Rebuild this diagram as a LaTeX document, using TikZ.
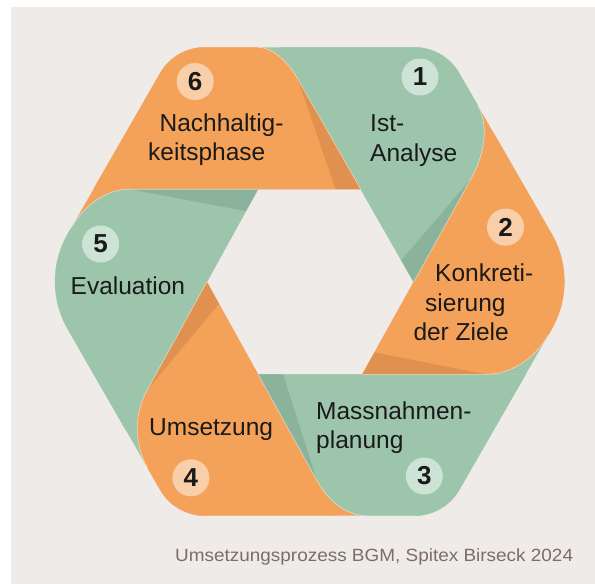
\documentclass[tikz,border=0pt]{standalone}
\usepackage{fontspec}
\usepackage{graphicx}
\setmainfont{Liberation Sans}
\usetikzlibrary{calc}

\definecolor{bg}{HTML}{EFEBE8}
\definecolor{org}{HTML}{F4A25A}
\definecolor{grn}{HTML}{9DC5AB}
\definecolor{orgdark}{HTML}{E0914F}
\definecolor{grndark}{HTML}{8BB39B}
\definecolor{orglight}{HTML}{F9CFA9}
\definecolor{grnlight}{HTML}{CDE3D5}
\definecolor{txt}{HTML}{1A1A1A}
\definecolor{capc}{HTML}{7B6E64}

% rounded corner at vertex #2 (between #1 and #3); #4/#5 = inset towards #1/#3
\newcommand\rnd[5]{%
  -- ($(#2)!#4!(#1)$) .. controls ($(#2)!0.38*#4!(#1)$) and ($(#2)!0.38*#5!(#3)$) .. ($(#2)!#5!(#3)$)}

\tikzset{
  orgpiece/.style={fill=org, draw=org, line width=0.4pt},
  grnpiece/.style={fill=grn, draw=grn, line width=0.4pt},
  hl/.style={draw=white, draw opacity=0.55, line width=0.6pt},
  lbl/.style={inner sep=0pt, anchor=base west, text=txt, font=\fontsize{24.5}{29}\selectfont},
  numcirc/.style={circle, minimum size=37pt, inner sep=0pt, text=txt,
    font=\bfseries\fontsize{26}{26}\selectfont},
}

\begin{document}
\begin{tikzpicture}[x=1pt, y=-1pt]
\useasboundingbox (0,0) rectangle (595,584);
\fill[white] (0,0) rectangle (595,584);
\fill[bg] (11.4,7.4) rectangle (595,584);

% outer hexagon corners
\coordinate (A1) at (444.35,47.3);
\coordinate (A2) at (579,281.5);
\coordinate (A3) at (444.35,515.7);
\coordinate (A4) at (175.05,515.7);
\coordinate (A5) at (40.4,281.5);
\coordinate (A6) at (175.05,47.3);
% inner hexagon corners
\coordinate (I1) at (413.7,282);
\coordinate (I2) at (362.4,374.3);
\coordinate (I3) at (258,374.3);
\coordinate (I4) at (206.8,282);
\coordinate (I5) at (258,189.2);
\coordinate (I6) at (360.7,189.2);
% where the extended inner edges meet the outer outline
\coordinate (J1) at (intersection of I2--I1 and A1--A2);
\coordinate (J2) at (intersection of I3--I2 and A2--A3);
\coordinate (J3) at (intersection of I4--I3 and A3--A4);
\coordinate (J4) at (intersection of I5--I4 and A4--A5);
\coordinate (J5) at (intersection of I6--I5 and A5--A6);
\coordinate (J6) at (intersection of I1--I6 and A6--A1);

% pieces showing behind the rounded overlap corners
\fill[org] (J1) -- ($(J1)!35pt!(A1)$) -- ($(J1)!50pt!(I1)$) -- cycle;
\fill[grn] (J2) -- ($(J2)!45pt!(A2)$) -- ($(J2)!40pt!(I2)$) -- cycle;
\fill[org] (J3) -- ($(J3)!30pt!(A3)$) -- ($(J3)!40pt!(I3)$) -- cycle;
\fill[grn] (J4) -- ($(J4)!45pt!(A4)$) -- ($(J4)!45pt!(I4)$) -- cycle;
\fill[org] (J5) -- ($(J5)!45pt!(A5)$) -- ($(J5)!36pt!(I5)$) -- cycle;
\fill[grn] (J6) -- ($(J6)!22pt!(A6)$) -- ($(J6)!36pt!(I6)$) -- cycle;

% the six pieces
\path[grnpiece] (J6) \rnd{J6}{A1}{J1}{30pt}{30pt} \rnd{A1}{J1}{I1}{35pt}{50pt} -- (I1) -- (I6) -- cycle;
\path[orgpiece] (J1) \rnd{J1}{A2}{J2}{55pt}{55pt} \rnd{A2}{J2}{I2}{45pt}{40pt} -- (I2) -- (I1) -- cycle;
\path[grnpiece] (J2) \rnd{J2}{A3}{J3}{30pt}{30pt} \rnd{A3}{J3}{I3}{30pt}{40pt} -- (I3) -- (I2) -- cycle;
\path[orgpiece] (J3) \rnd{J3}{A4}{J4}{30pt}{30pt} \rnd{A4}{J4}{I4}{45pt}{45pt} -- (I4) -- (I3) -- cycle;
\path[grnpiece] (J4) \rnd{J4}{A5}{J5}{55pt}{55pt} \rnd{A5}{J5}{I5}{45pt}{36pt} -- (I5) -- (I4) -- cycle;
\path[orgpiece] (J5) \rnd{J5}{A6}{J6}{30pt}{30pt} \rnd{A6}{J6}{I6}{22pt}{36pt} -- (I6) -- (I5) -- cycle;

% shadow wedges at the inner corners
\fill[grndark] ($(J1)!50pt!(I1)$) -- (I1) -- ($(I1)!25pt!(I6)$) -- cycle;
\fill[orgdark] ($(J2)!40pt!(I2)$) -- (I2) -- ($(I2)!25pt!(I1)$) -- cycle;
\fill[grndark] ($(J3)!40pt!(I3)$) -- (I3) -- ($(I3)!25pt!(I2)$) -- cycle;
\fill[orgdark] ($(J4)!45pt!(I4)$) -- (I4) -- ($(I4)!25pt!(I3)$) -- cycle;
\fill[grndark] ($(J5)!36pt!(I5)$) -- (I5) -- ($(I5)!25pt!(I4)$) -- cycle;
\fill[orgdark] ($(J6)!36pt!(I6)$) -- (I6) -- ($(I6)!25pt!(I5)$) -- cycle;

% light edges along the overlaps
\path[hl] ($(J1)!35pt!(A1)$) \rnd{A1}{J1}{I1}{35pt}{50pt} -- (I1);
\path[hl] ($(J2)!45pt!(A2)$) \rnd{A2}{J2}{I2}{45pt}{40pt} -- (I2);
\path[hl] ($(J3)!30pt!(A3)$) \rnd{A3}{J3}{I3}{30pt}{40pt} -- (I3);
\path[hl] ($(J4)!45pt!(A4)$) \rnd{A4}{J4}{I4}{45pt}{45pt} -- (I4);
\path[hl] ($(J5)!45pt!(A5)$) \rnd{A5}{J5}{I5}{45pt}{36pt} -- (I5);
\path[hl] ($(J6)!22pt!(A6)$) \rnd{A6}{J6}{I6}{22pt}{36pt} -- (I6);

% step numbers
\node[numcirc, fill=grnlight] (n1) at (420,77) {1};
\node[numcirc, fill=orglight] (n2) at (505.5,227.2) {2};
\node[numcirc, fill=grnlight] (n3) at (424.3,476) {3};
\node[numcirc, fill=orglight] (n4) at (190.9,477.8) {4};
\node[numcirc, fill=grnlight] (n5) at (100.6,244) {5};
\node[numcirc, fill=orglight] (n6) at (195.2,81.5) {6};

% step labels
\node[lbl] (l1a) at (370,131) {Ist-};
\node[lbl] (l1b) at (370,161.5) {Analyse};
\node[lbl] (l2a) at (435,281.7) {Konkreti-};
\node[lbl] (l2b) at (425,311.5) {sierung};
\node[lbl] (l2c) at (413.3,340.7) {der Ziele};
\node[lbl] (l3a) at (316,419) {Massnahmen-};
\node[lbl] (l3b) at (316,448.8) {planung};
\node[lbl] (l4) at (149,435.7) {Umsetzung};
\node[lbl] (l5) at (70.5,294) {Evaluation};
\node[lbl] (l6a) at (159.4,131) {Nachhaltig-};
\node[lbl] (l6b) at (148,160) {keitsphase};

% source line
\node[inner sep=0pt, anchor=base west, text=capc, font=\fontsize{17.7}{20}\selectfont]
  (src) at (175,561) {\scalebox{1.07}[1]{Umsetzungsprozess BGM, Spitex Birseck 2024}};
\end{tikzpicture}
\end{document}
